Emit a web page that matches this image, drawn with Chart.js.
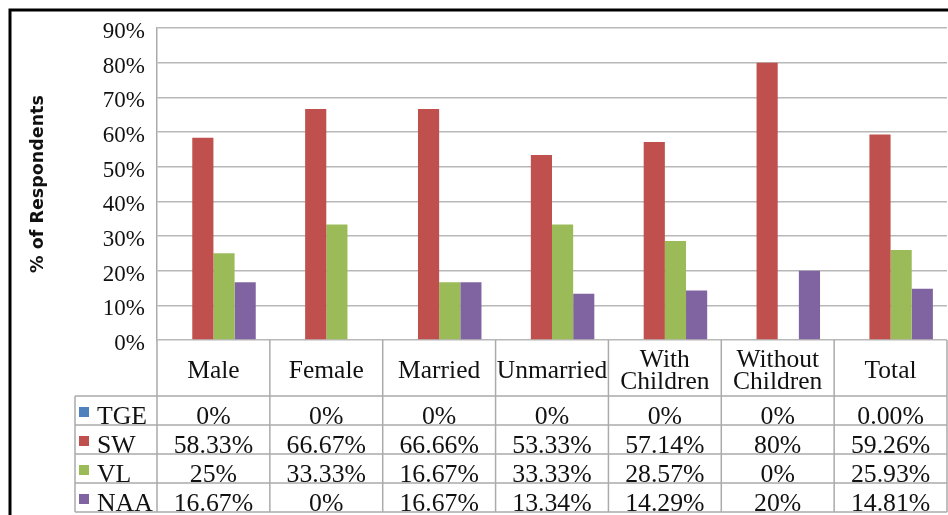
<!DOCTYPE html>
<html>
<head>
<meta charset="utf-8">
<script src="https://cdn.jsdelivr.net/npm/chart.js@4.4.1/dist/chart.umd.min.js"></script>
<style>
  html, body { margin: 0; padding: 0; background: #ffffff; }
  #wrap { width: 948px; height: 515px; }
  canvas { display: block; }
</style>
</head>
<body>
<div id="wrap"><canvas id="chart" width="948" height="515"></canvas></div>
<script>
// Respondent groups (header row of the data table, split into lines)
const categories = [
  ['Male'], ['Female'], ['Married'], ['Unmarried'],
  ['With', 'Children'], ['Without', 'Children'], ['Total']
];

// Series names and their values, in percent
const seriesNames = ['TGE', 'SW', 'VL', 'NAA'];
const tgeValues = [0, 0, 0, 0, 0, 0, 0];
const swValues  = [58.33, 66.67, 66.66, 53.33, 57.14, 80, 59.26];
const vlValues  = [25, 33.33, 16.67, 33.33, 28.57, 0, 25.93];
const naaValues = [16.67, 0, 16.67, 13.34, 14.29, 20, 14.81];

// Value axis ticks, in percent
const yTicks = [0, 10, 20, 30, 40, 50, 60, 70, 80, 90];

const seriesColors = ['#4F81BD', '#C0504D', '#9BBB59', '#8064A2'];
const allValues = [tgeValues, swValues, vlValues, naaValues];

const SERIF = '"Liberation Serif", "Times New Roman", serif';
const TEXT_COLOR = '#111111';
const LINE_COLOR = '#ababab';

// Cell text: whole numbers print bare, the Total column keeps two decimals
function formatCell(value, colIndex) {
  if (colIndex === categories.length - 1) return value.toFixed(2) + '%';
  return Number.isInteger(value) ? value + '%' : value.toFixed(2) + '%';
}

// Slightly widened serif text, as in the table of the original workbook
function drawStretched(ctx, text, x, y, align, sx) {
  ctx.save();
  ctx.translate(x, y);
  ctx.scale(sx, 1);
  ctx.textAlign = align;
  ctx.textBaseline = 'alphabetic';
  ctx.fillText(text, 0, 0);
  ctx.restore();
}

// Outer frame and the data table under the plot
const dataTablePlugin = {
  id: 'dataTable',
  afterDraw(chart) {
    const ctx = chart.ctx;
    const area = chart.chartArea;
    const xs = chart.scales.x;
    const n = categories.length;
    const colW = (area.right - area.left) / n;
    const headerTop = area.bottom;
    const headerBottom = headerTop + 56;
    const rowH = 29;
    const tableLeft = 75;
    const rows = seriesNames.length;
    const tableBottom = headerBottom + rows * rowH;

    ctx.save();
    ctx.strokeStyle = LINE_COLOR;
    ctx.lineWidth = 1.5;
    ctx.beginPath();
    // column boundaries through the header and the body
    for (let i = 0; i <= n; i++) {
      const bx = area.left + i * colW;
      ctx.moveTo(bx, headerTop);
      ctx.lineTo(bx, tableBottom);
    }
    // legend column left edge
    ctx.moveTo(tableLeft, headerBottom);
    ctx.lineTo(tableLeft, tableBottom);
    // row lines
    for (let r = 0; r <= rows; r++) {
      const ry = headerBottom + r * rowH;
      ctx.moveTo(tableLeft, ry);
      ctx.lineTo(area.right, ry);
    }
    ctx.stroke();

    ctx.fillStyle = TEXT_COLOR;
    ctx.font = '25px ' + SERIF;

    // header: category names, centred in each column
    const headerMid = (headerTop + headerBottom) / 2;
    categories.forEach((lines, i) => {
      const cx = xs.getPixelForValue(i);
      lines.forEach((line, k) => {
        const by = headerMid + 10 + (k - (lines.length - 1) / 2) * 22;
        drawStretched(ctx, line, cx, by, 'center', 1.02);
      });
    });

    // body: legend key, series name, then one value per category
    seriesNames.forEach((name, r) => {
      const rowTop = headerBottom + r * rowH;
      const baseY = rowTop + rowH - 1.5;
      ctx.fillStyle = seriesColors[r];
      ctx.fillRect(79, rowTop + 11, 10, 10);
      ctx.fillStyle = TEXT_COLOR;
      drawStretched(ctx, name, 97, baseY, 'left', 1.03);
      allValues[r].forEach((v, i) => {
        drawStretched(ctx, formatCell(v, i), xs.getPixelForValue(i), baseY, 'center', 1.03);
      });
    });

    // black frame around the figure
    ctx.strokeStyle = '#000000';
    ctx.lineWidth = 3;
    ctx.beginPath();
    ctx.moveTo(10, 520);
    ctx.lineTo(10, 10);
    ctx.lineTo(960, 10);
    ctx.stroke();
    ctx.restore();
  }
};

new Chart(document.getElementById('chart'), {
  type: 'bar',
  data: {
    labels: categories.map(c => c.join(' ')),
    datasets: seriesNames.map((name, s) => ({
      label: name,
      data: allValues[s],
      backgroundColor: seriesColors[s],
      borderWidth: 0,
      categoryPercentage: 0.75,
      barPercentage: 1.0
    }))
  },
  options: {
    responsive: false,
    animation: false,
    devicePixelRatio: 1,
    layout: { padding: { left: 0, right: 1, top: 28, bottom: 175 } },
    plugins: {
      legend: { display: false },
      tooltip: { enabled: false }
    },
    scales: {
      x: {
        display: false,
        grid: { display: false }
      },
      y: {
        min: yTicks[0],
        max: yTicks[yTicks.length - 1],
        afterBuildTicks(scale) {
          scale.ticks = yTicks.map(v => ({ value: v }));
        },
        afterFit(scale) { scale.width = 157; },
        ticks: {
          padding: 12,
          labelOffset: 4,
          color: TEXT_COLOR,
          font: { family: SERIF, size: 23 },
          callback: v => v + '%'
        },
        grid: {
          color: '#b8b8b8',
          lineWidth: 1.5,
          drawTicks: false
        },
        border: { display: true, color: LINE_COLOR, width: 1.5 },
        title: {
          display: true,
          text: '% of Respondents',
          color: '#111111',
          font: { family: '"DejaVu Sans", sans-serif', size: 17.5, weight: 'bold' },
          padding: { top: 28, bottom: 0 }
        }
      }
    }
  },
  plugins: [dataTablePlugin]
});
</script>
</body>
</html>
